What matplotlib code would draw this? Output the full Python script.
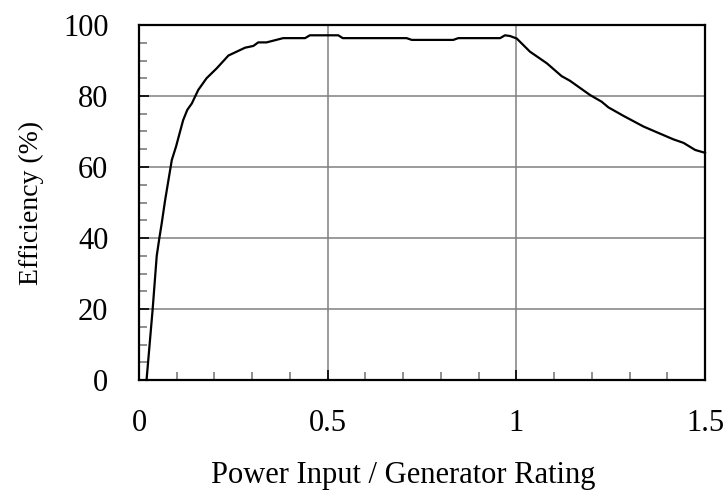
import numpy as np
import matplotlib
matplotlib.use("Agg")
import matplotlib.pyplot as plt
from matplotlib.ticker import MultipleLocator, FixedLocator

plt.rcParams['font.family'] = ['Liberation Serif', 'DejaVu Serif']

# curve
ratio = [0.020, 0.036, 0.047, 0.054, 0.060, 0.069, 0.076, 0.087, 0.098, 0.117,
         0.128, 0.140, 0.157, 0.179, 0.206, 0.237, 0.259, 0.281, 0.303, 0.316,
         0.338, 0.382, 0.440, 0.453, 0.528, 0.540, 0.709, 0.723, 0.833, 0.846,
         0.957, 0.970, 0.983, 1.001, 1.036, 1.081, 1.120, 1.142, 1.195, 1.226,
         1.244, 1.284, 1.337, 1.372, 1.416, 1.443, 1.474, 1.500]
efficiency = [0.0, 19.7, 35.0, 40.0, 44.0, 50.5, 55.0, 62.0, 65.7, 73.2,
              76.1, 77.9, 81.7, 85.0, 87.8, 91.4, 92.5, 93.6, 94.1, 95.1,
              95.1, 96.3, 96.3, 97.1, 97.1, 96.3, 96.3, 95.8, 95.8, 96.3,
              96.3, 97.1, 96.9, 96.2, 92.5, 89.2, 85.6, 84.3, 80.3, 78.4,
              76.8, 74.4, 71.4, 69.8, 67.8, 66.8, 64.8, 64.0]

xticks = [0, 0.5, 1, 1.5]
xticklabels = ["0", "0.5", "1", "1.5"]
yticks = [0, 20, 40, 60, 80, 100]

fig = plt.figure(figsize=(7.23, 5.01), dpi=100)
ax = fig.add_axes([139/723, 121/501, 566/723, 355/501])

ax.plot(ratio, efficiency, color="black", lw=1.6, zorder=3, clip_on=False)

ax.set_xlim(0, 1.5)
ax.set_ylim(0, 100)
ax.set_xticks(xticks)
ax.set_xticklabels(xticklabels)
ax.set_yticks(yticks)
ax.xaxis.set_minor_locator(MultipleLocator(0.1))
ax.yaxis.set_minor_locator(MultipleLocator(5))

ax.grid(True, which="major", color="#808080", lw=1.1, zorder=1)
ax.tick_params(which="major", direction="in", length=7, width=1.2, color="black",
               labelsize=22, pad=22)
ax.tick_params(axis="x", which="major", pad=21)
ax.tick_params(which="minor", direction="in", length=6, width=1.1, color="#707070")

for s in ax.spines.values():
    s.set_color("black")
    s.set_linewidth(1.6)

ax.set_ylabel("Efficiency (%)", fontsize=20)
ax.yaxis.set_label_coords(-0.168, 0.5)
ax.set_xlabel("Power Input / Generator Rating", fontsize=22)
ax.xaxis.set_label_coords(0.466, -0.228)

fig.savefig("out.png", dpi=100)
